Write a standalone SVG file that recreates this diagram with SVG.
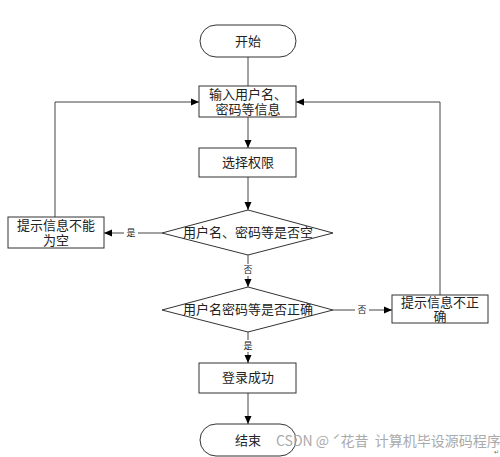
<svg xmlns="http://www.w3.org/2000/svg" width="500" height="457" viewBox="0 0 500 457">
<defs>
<marker id="arr" markerWidth="8" markerHeight="8" refX="8" refY="4" orient="auto" markerUnits="userSpaceOnUse">
<path d="M0,0.5 L8,4 L0,7.5 Z" fill="#000"/>
</marker>
</defs>
<style>
.s{fill:#fff;stroke:#333;stroke-width:1}
.t{font-family:"Liberation Serif","Noto Sans CJK SC",serif;font-size:13px;fill:#222;text-anchor:middle}
.l{font-family:"Liberation Serif","Noto Sans CJK SC",serif;font-size:9px;fill:#222;text-anchor:middle}
.c{fill:none;stroke:#444;stroke-width:1}
.w{font-family:"Noto Sans CJK SC",sans-serif;font-size:14px;fill:#aaa}
</style>
<rect width="500" height="457" fill="#fff"/>
<g id="connectors">
<line class="c" x1="248" y1="57" x2="248" y2="86"/>
<line class="c" x1="248" y1="117" x2="248" y2="148" marker-end="url(#arr)"/>
<line class="c" x1="248" y1="177" x2="248" y2="210" marker-end="url(#arr)"/>
<line class="c" x1="162" y1="233" x2="104" y2="233" marker-end="url(#arr)"/>
<polyline class="c" points="55,217 55,102 199,102" marker-end="url(#arr)"/>
<line class="c" x1="248" y1="255" x2="248" y2="287" marker-end="url(#arr)"/>
<line class="c" x1="333" y1="310" x2="392" y2="310" marker-end="url(#arr)"/>
<polyline class="c" points="440,295 440,102 296,102" marker-end="url(#arr)"/>
<line class="c" x1="248" y1="332" x2="248" y2="363" marker-end="url(#arr)"/>
<line class="c" x1="248" y1="393" x2="248" y2="424" marker-end="url(#arr)"/>
<rect x="124" y="227" width="14" height="12" fill="#fff"/>
<text class="l" x="131" y="236">是</text>
<rect x="241" y="264" width="14" height="12" fill="#fff"/>
<text class="l" x="248" y="273">否</text>
<rect x="355" y="304" width="14" height="12" fill="#fff"/>
<text class="l" x="362" y="313">否</text>
<rect x="241" y="340" width="14" height="12" fill="#fff"/>
<text class="l" x="248" y="349">是</text>
</g>
<g id="start">
<rect class="s" x="200" y="25" width="96" height="32" rx="16"/>
<text class="t" x="248" y="46">开始</text>
</g>
<g id="input">
<rect class="s" x="199" y="86" width="97" height="31"/>
<text class="t" x="248" y="99">输入用户名、</text>
<text class="t" x="248" y="114">密码等信息</text>
</g>
<g id="select">
<rect class="s" x="199" y="148" width="97" height="29"/>
<text class="t" x="248" y="167">选择权限</text>
</g>
<g id="check-empty">
<polygon class="s" points="248,210 333,233 248,255 162,233"/>
<text class="t" x="248" y="237">用户名、密码等是否空</text>
</g>
<g id="empty-msg">
<rect class="s" x="8" y="217" width="96" height="31"/>
<text class="t" x="56" y="230">提示信息不能</text>
<text class="t" x="56" y="245">为空</text>
</g>
<g id="check-correct">
<polygon class="s" points="248,287 333,310 248,332 162,310"/>
<text class="t" x="248" y="314">用户名密码等是否正确</text>
</g>
<g id="wrong-msg">
<rect class="s" x="392" y="295" width="96" height="28"/>
<text class="t" x="440" y="307">提示信息不正</text>
<text class="t" x="440" y="321">确</text>
</g>
<g id="success">
<rect class="s" x="199" y="363" width="97" height="30"/>
<text class="t" x="248" y="382">登录成功</text>
</g>
<g id="end">
<rect class="s" x="200" y="424" width="96" height="32" rx="16"/>
<text class="t" x="248" y="445">结束</text>
</g>
<text class="w" x="276" y="446" xml:space="preserve">CSDN @ ˊ花昔  计算机毕设源码程序</text>
<text x="494" y="454" font-family="Liberation Sans,sans-serif" font-size="6" fill="#666">↵</text>
</svg>
